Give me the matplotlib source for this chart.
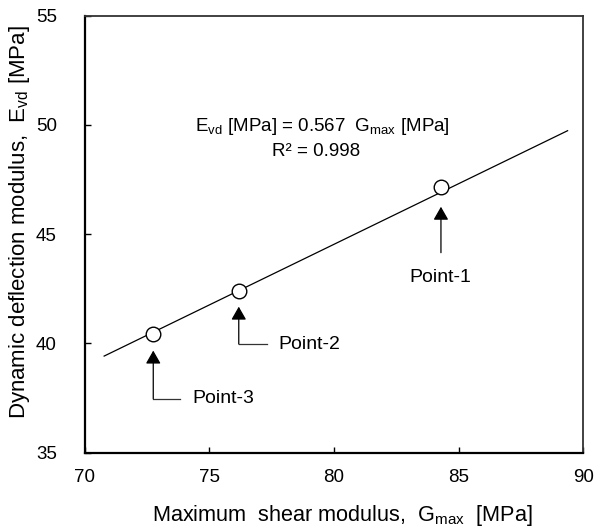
import matplotlib
matplotlib.use('Agg')
import matplotlib.pyplot as plt

plt.rcParams['font.family'] = ['Liberation Sans', 'DejaVu Sans']
plt.rcParams['mathtext.fontset'] = 'custom'
plt.rcParams['mathtext.rm'] = 'Liberation Sans'
plt.rcParams['mathtext.it'] = 'Liberation Sans'

# measured points (G_max, E_vd)
g_max = [84.29, 76.18, 72.75]
e_vd = [47.14, 42.41, 40.42]
point_labels = ['Point-1', 'Point-2', 'Point-3']

# trend line ends as drawn
fit_x = [70.78, 89.37]
fit_y = [39.42, 49.73]

# arrow tip / tail and label anchor for each point
arrow_tip_y = [46.25, 41.68, 39.67]
arrow_tail_y = [44.15, 39.97, 37.47]
leg_end_x = [None, 77.32, 73.82]
label_xy = [(84.25, 43.0), (77.75, 39.97), (74.33, 37.47)]

x_ticks = [70, 75, 80, 85, 90]
y_ticks = [35, 40, 45, 50, 55]

fig = plt.figure(figsize=(5.97, 5.29), dpi=100)
ax = fig.add_axes([84.7 / 597, (529 - 452.7) / 529, (583.3 - 84.7) / 597, (452.7 - 15.5) / 529])

ax.plot(fit_x, fit_y, color='black', lw=0.9)
ax.plot(g_max, e_vd, ls='none', marker='o', ms=10.5, mfc='white', mec='black', mew=1.0)

for i in range(len(g_max)):
    ax.annotate('', xy=(g_max[i], arrow_tip_y[i]), xytext=(g_max[i], arrow_tail_y[i]),
                arrowprops=dict(arrowstyle='-|>,head_length=0.42,head_width=0.24', color='black', lw=0.9,
                                mutation_scale=19, shrinkA=0, shrinkB=0))
    if leg_end_x[i] is not None:
        ax.plot([g_max[i], leg_end_x[i]], [arrow_tail_y[i], arrow_tail_y[i]], color='#333333', lw=0.9)
        ax.text(label_xy[i][0], label_xy[i][1], point_labels[i], fontsize=14, ha='left', va='center')
    else:
        ax.text(label_xy[i][0], label_xy[i][1], point_labels[i], fontsize=14, ha='center', va='center')

ax.text(79.54, 49.91, r'E$_\mathregular{vd}$ [MPa] = 0.567  G$_\mathregular{max}$ [MPa]',
        fontsize=13.5, ha='center', va='center')
ax.text(79.3, 48.77, 'R² = 0.998', fontsize=13.5, ha='center', va='center')

ax.set_xlim(70, 90)
ax.set_ylim(35, 55)
ax.set_xticks(x_ticks)
ax.set_yticks(y_ticks)
ax.tick_params(axis='x', direction='in', length=4.5, width=1, labelsize=13.5, pad=12, top=False)
ax.tick_params(axis='y', direction='in', length=4.5, width=1, labelsize=13.5, pad=20, right=False)

for side in ['left', 'bottom']:
    ax.spines[side].set_linewidth(1.6)
    ax.spines[side].set_color('black')
for side in ['top', 'right']:
    ax.spines[side].set_linewidth(1.3)
    ax.spines[side].set_color('#333333')

ax.set_xlabel(r'Maximum  shear modulus,  G$_\mathregular{max}$  [MPa]', fontsize=15.6)
ax.set_ylabel(r'Dynamic deflection modulus,  E$_\mathregular{vd}$ [MPa]', fontsize=16)
ax.xaxis.set_label_coords((342.5 - 84.7) / 498.6, (452.7 - 515) / 437.2)
ax.xaxis.label.set_verticalalignment('center')
ax.yaxis.set_label_coords((20 - 84.7) / 498.6, (452.7 - 222.5) / 437.2)
ax.yaxis.label.set_verticalalignment('center')

fig.savefig('out.png', dpi=100)
